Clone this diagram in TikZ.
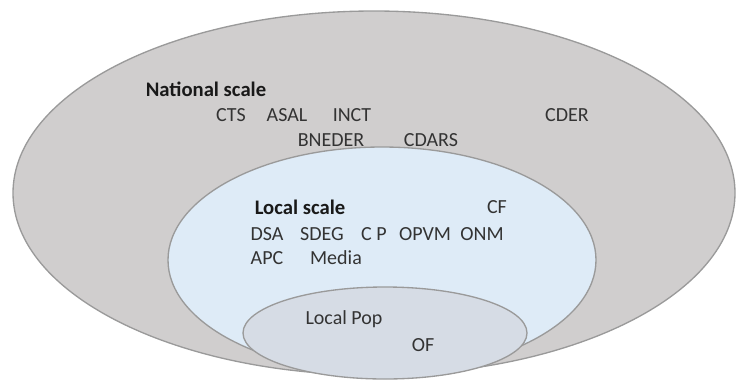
\documentclass[tikz,border=0pt]{standalone}
\usepackage{fontspec}
\setmainfont{Carlito}
\definecolor{natfill}{HTML}{D0CECE}
\definecolor{locfill}{HTML}{DEEBF7}
\definecolor{popfill}{HTML}{D6DCE5}
\definecolor{rimgray}{HTML}{9A9A9A}
\begin{document}
\begin{tikzpicture}[x=0.75pt, y=-0.75pt,
    scalelabel/.style={font=\fontsize{15.5}{18}\selectfont\bfseries, text=black!90},
    actor/.style={font=\fontsize{15}{18}\selectfont, text=black!80, inner sep=1pt},
    rim/.style={draw=rimgray, line width=1pt}]
        \useasboundingbox (0,0) rectangle (736,383);

        % --- Echelle nationale (grande ellipse grise) ---
        \coordinate (N) at (374,193);
        \draw[rim, fill=natfill] (N) ellipse [x radius=361, y radius=182];
        \node[scalelabel] (national) at (206,89) {National scale};
        \node[actor] (cts)    at (231,115) {CTS};
        \node[actor] (asal)   at (287,115) {ASAL};
        \node[actor] (inct)   at (352,115) {INCT};
        \node[actor] (cder)   at (567,115) {CDER};
        \node[actor] (bneder) at (331,140) {BNEDER};
        \node[actor] (cdars)  at (431,140) {CDARS};

        % --- Echelle locale (ellipse bleue) ---
        \coordinate (L) at (382,260);
        \draw[rim, fill=locfill] (L) ellipse [x radius=214, y radius=113];
        \node[scalelabel] (local) at (300,207) {Local scale};
        \node[actor] (cf)    at (497,207) {CF};
        \node[actor] (dsa)   at (267,234) {DSA};
        \node[actor] (sdeg)  at (322,234) {SDEG};
        \node[actor] (cp)    at (374,234) {C P};
        \node[actor] (opvm)  at (425,234) {OPVM};
        \node[actor] (onm)   at (482,234) {ONM};
        \node[actor] (apc)   at (267,258) {APC};
        \node[actor] (media) at (336,258) {Media};

        % --- Population locale (petite ellipse) ---
        \coordinate (P) at (385,333);
        \draw[rim, fill=popfill] (P) ellipse [x radius=142, y radius=46];
        \node[actor] (pop) at (344,319) {Local Pop};
        \node[actor] (of)  at (423,345) {OF};
\end{tikzpicture}
\end{document}
